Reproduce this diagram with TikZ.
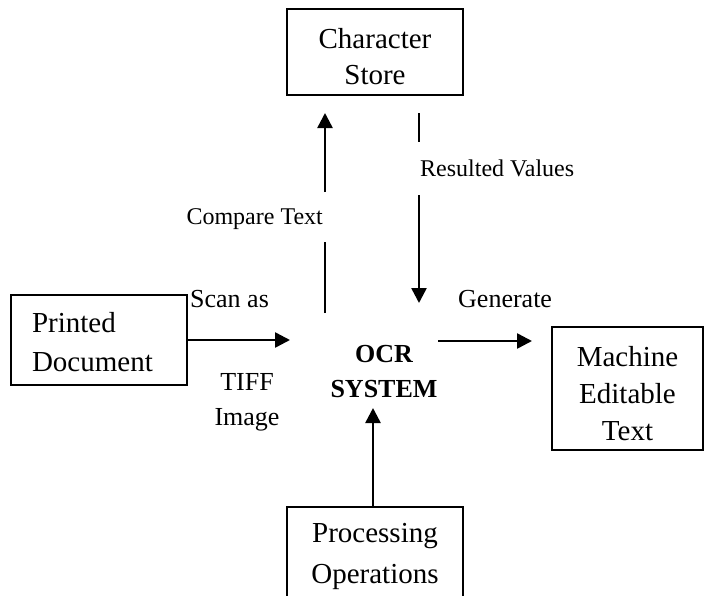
\documentclass[tikz,border=0pt]{standalone}
\usepackage{fontspec}
\setmainfont{Liberation Serif}
\usetikzlibrary{arrows.meta}
\newcommand\mytopstrut[1]{\rule{0pt}{#1}}
\begin{document}
\begin{tikzpicture}[x=1pt,y=-1pt,
  box/.style={draw,line width=1.8pt,minimum width=176pt,align=center,inner sep=0pt,font=\fontsize{29}{38}\selectfont},
  lbl/.style={inner sep=0pt,font=\fontsize{24}{30}\selectfont},
  lblb/.style={inner sep=0pt,font=\fontsize{26}{35}\selectfont},
  flow/.style={line width=2.5pt,-{Triangle[length=15pt,width=15pt]}},
  seg/.style={line width=2.5pt}]
\useasboundingbox (0,0) rectangle (704,595);
\clip (0,0) rectangle (704,595);
% boxes
\node[box,minimum height=86pt,font=\fontsize{29}{36}\selectfont] (cs) at (375,52) {\mytopstrut{29pt}Character\\Store};
\node[box,minimum height=90pt,align=left,text width=134pt,inner xsep=21pt,font=\fontsize{29}{39}\selectfont] (pd) at (99,340) {\mytopstrut{24pt}Printed\\Document};
\node[box,minimum width=151pt,minimum height=123pt,font=\fontsize{29}{37}\selectfont] (me) at (627.5,388.5) {\mytopstrut{30pt}Machine\\Editable\\Text};
\node[box,minimum height=90pt,font=\fontsize{29}{41}\selectfont] (ps) at (375,552) {\mytopstrut{28pt}Processing\\Operations};
% labels
\node[lbl,anchor=base east] (ct) at (323,224) {Compare Text};
\node[lbl,anchor=base west] (rv) at (420,176) {Resulted Values};
\node[lblb,anchor=base west] (sa) at (190,307) {Scan as};
\node[lblb,anchor=base west] (ge) at (458,307) {Generate};
\node[lblb,align=center,anchor=base] (ti) at (247,425) {TIFF\\Image};
\node[lblb,align=center,anchor=base,font=\fontsize{26}{35}\selectfont\bfseries] (ocr) at (384,397) {OCR\\SYSTEM};
% connector points
\coordinate (a1) at (290,340);
\coordinate (c1) at (325,313);
\coordinate (c2) at (325,242);
\coordinate (c3) at (325,192);
\coordinate (c4) at (325,113);
\coordinate (r1) at (419,113);
\coordinate (r2) at (419,142);
\coordinate (r3) at (419,195);
\coordinate (r4) at (419,303);
\coordinate (g1) at (438,341);
\coordinate (g2) at (532,341);
\coordinate (p1) at (373,408);
% connectors
\draw[flow] (pd.east) -- (a1);
\draw[seg] (c1) -- (c2);
\draw[flow] (c3) -- (c4);
\draw[seg] (r1) -- (r2);
\draw[flow] (r3) -- (r4);
\draw[flow] (g1) -- (g2);
\draw[flow] (ps.north -| p1) -- (p1);
\end{tikzpicture}
\end{document}
